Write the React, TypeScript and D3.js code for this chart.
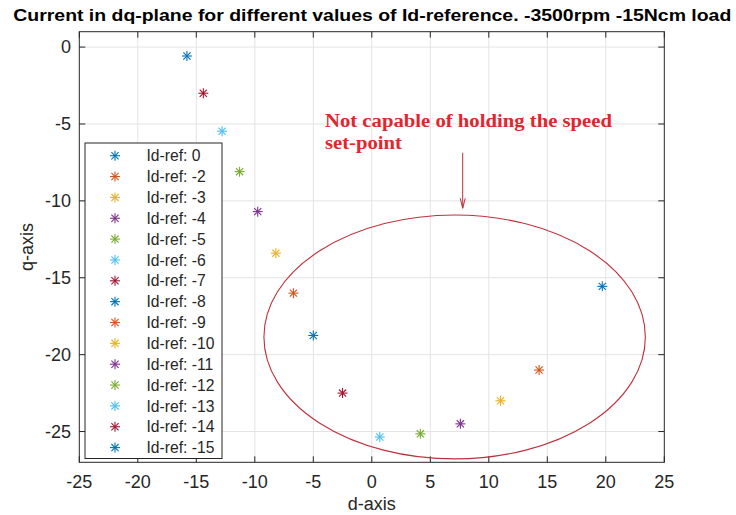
import React from "react";
import * as d3 from "d3";

const ids = [0, -2, -3, -4, -5, -6, -7, -8, -9, -10, -11, -12, -13, -14, -15];
const dVals = [19.7, 14.3, 11.0, 7.57, 4.15, 0.68, -2.5, -5.0, -6.7, -8.2, -9.75, -11.3, -12.8, -14.4, -15.8];
const qVals = [-15.56, -21.0, -23.0, -24.5, -25.15, -25.36, -22.5, -18.75, -16.0, -13.4, -10.7, -8.1, -5.47, -3.0, -0.58];
const xTicks = [-25, -20, -15, -10, -5, 0, 5, 10, 15, 20, 25];
const yTicks = [0, -5, -10, -15, -20, -25];
const palette = ["#0072BD", "#D95319", "#EDB120", "#7E2F8E", "#77AC30", "#4DBEEE", "#A2142F"];
const titleText = "Current in dq-plane for different values of Id-reference. -3500rpm -15Ncm load";
const noteLines = ["Not capable of holding the speed", "set-point"];

const W = 736, H = 515;
const L = 79.3, R = 664.3, T = 31.7, B = 462.3;

function Star({ cx, cy, color, r = 5 }: { cx: number; cy: number; color: string; r?: number }) {
  const dg = r * 0.72;
  return (
    <g stroke={color} strokeWidth={1.1}>
      <line x1={cx - r} y1={cy} x2={cx + r} y2={cy} />
      <line x1={cx} y1={cy - r} x2={cx} y2={cy + r} />
      <line x1={cx - dg} y1={cy - dg} x2={cx + dg} y2={cy + dg} />
      <line x1={cx - dg} y1={cy + dg} x2={cx + dg} y2={cy - dg} />
    </g>
  );
}

export default function App() {
  const x = d3.scaleLinear().domain([-25, 25]).range([L, R]);
  const y = d3.scaleLinear().domain([-27, 1]).range([B, T]);
  const axisColor = "#262626";
  const font = "'Liberation Sans', Arial, sans-serif";
  const tickLen = 6;

  // annotation geometry (data units)
  const ell = { cx: 7.08, cy: -18.85, rx: 16.3, ry: 7.93 };
  const arrowX = 7.77, arrowY1 = -6.87, arrowY2 = -10.48;

  const legX = 85, legY = 143, legW = 137, legH = 315.5;
  const legStep = 20.85;

  return (
    <svg width={W} height={H} style={{ position: "absolute", left: 0, top: 0, background: "#fff" }}>
      <rect x={0} y={0} width={W} height={H} fill="#fff" />
      {/* grid */}
      <g stroke="#e3e3e3" strokeWidth={1}>
        {xTicks.slice(1, -1).map((t) => (
          <line key={"gx" + t} x1={x(t)} x2={x(t)} y1={T} y2={B} />
        ))}
        {yTicks.map((t) => (
          <line key={"gy" + t} x1={L} x2={R} y1={y(t)} y2={y(t)} />
        ))}
      </g>
      {/* frame */}
      <rect x={L} y={T} width={R - L} height={B - T} fill="none" stroke={axisColor} strokeWidth={1} />
      {/* ticks */}
      <g stroke={axisColor} strokeWidth={1}>
        {xTicks.map((t) => (
          <g key={"tx" + t}>
            <line x1={x(t)} x2={x(t)} y1={B} y2={B - tickLen} />
            <line x1={x(t)} x2={x(t)} y1={T} y2={T + tickLen} />
          </g>
        ))}
        {yTicks.map((t) => (
          <g key={"ty" + t}>
            <line x1={L} x2={L + tickLen} y1={y(t)} y2={y(t)} />
            <line x1={R} x2={R - tickLen} y1={y(t)} y2={y(t)} />
          </g>
        ))}
      </g>
      {/* tick labels */}
      <g fontFamily={font} fontSize={18} fill={axisColor}>
        {xTicks.map((t) => (
          <text key={"lx" + t} x={x(t)} y={488} textAnchor="middle">
            {t}
          </text>
        ))}
        {yTicks.map((t) => (
          <text key={"ly" + t} x={71} y={y(t) + 6.3} textAnchor="end">
            {t}
          </text>
        ))}
        <text x={(L + R) / 2} y={510} textAnchor="middle">d-axis</text>
        <text transform={`translate(33,${(T + B) / 2}) rotate(-90)`} textAnchor="middle">q-axis</text>
      </g>
      {/* title */}
      <text
        x={(L + R) / 2 + 0.5}
        y={20.7}
        textAnchor="middle"
        fontFamily={font}
        fontWeight="bold"
        fontSize={16}
        fill="#000"
        textLength={718}
        lengthAdjust="spacingAndGlyphs"
      >
        {titleText}
      </text>
      {/* points */}
      {ids.map((id, i) => (
        <Star key={"p" + id} cx={x(dVals[i])} cy={y(qVals[i])} color={palette[i % palette.length]} />
      ))}
      {/* annotation */}
      <ellipse
        cx={x(ell.cx)}
        cy={y(ell.cy)}
        rx={x(ell.cx + ell.rx) - x(ell.cx)}
        ry={y(ell.cy - ell.ry) - y(ell.cy)}
        fill="none"
        stroke="#c0303c"
        strokeWidth={1.1}
      />
      <g stroke="#b8303a" strokeWidth={1} fill="none">
        <line x1={x(arrowX)} x2={x(arrowX)} y1={y(arrowY1)} y2={y(arrowY2)} />
        <polyline
          points={`${x(arrowX) - 2.5},${y(arrowY2) - 10} ${x(arrowX)},${y(arrowY2)} ${x(arrowX) + 2.5},${y(arrowY2) - 10}`}
        />
      </g>
      <g fontFamily="'Liberation Serif', 'Times New Roman', serif" fontWeight="bold" fontSize={18} fill="#e0262e">
        <text x={325} y={126.7} textLength={287} lengthAdjust="spacingAndGlyphs">{noteLines[0]}</text>
        <text x={325} y={148.5} textLength={77} lengthAdjust="spacingAndGlyphs">{noteLines[1]}</text>
      </g>
      {/* legend */}
      <rect x={legX} y={legY} width={legW} height={legH} fill="#fff" stroke={axisColor} strokeWidth={1} />
      {ids.map((id, i) => {
        const cy = 155.7 + i * legStep;
        return (
          <g key={"lg" + id}>
            <Star cx={115} cy={cy} color={palette[i % palette.length]} />
            <text x={146.5} y={cy + 5.6} fontFamily={font} fontSize={15.7} fill={axisColor}>
              {`Id-ref: ${id}`}
            </text>
          </g>
        );
      })}
    </svg>
  );
}
